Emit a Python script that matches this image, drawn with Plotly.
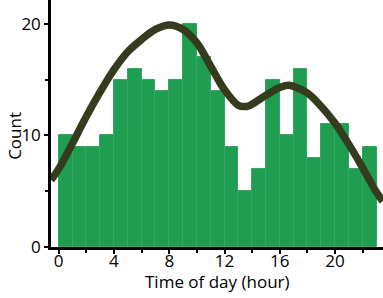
import plotly.graph_objects as go

# Histogram: counts per hour bin (bins start at hour 0..22)
hours = list(range(23))
counts = [10, 9, 9, 10, 15, 16, 15, 14, 15, 20, 17, 14, 9, 5, 7, 15, 10, 16, 8, 11, 11, 7, 9]

# Smoothed density curve
curve_x = [-0.55, 0, 1, 2, 3, 4, 5, 6, 7, 8, 9, 10, 11, 12, 13, 13.6, 14, 15, 16, 16.6, 17, 18, 19, 20, 21, 22, 23, 23.45]
curve_y = [6.0, 7.0, 9.3, 11.7, 13.9, 15.9, 17.5, 18.6, 19.5, 19.9, 19.5, 18.3, 16.2, 14.1, 12.7, 12.6, 12.8, 13.6, 14.3, 14.5, 14.4, 13.8, 12.6, 11.1, 9.2, 7.1, 4.9, 4.1]

x_ticks = [0, 4, 8, 12, 16, 20]
y_ticks = [0, 10, 20]

FONT = "Open Sans"

fig = go.Figure()
fig.add_trace(go.Bar(
    x=[h + 0.5 for h in hours], y=counts, width=1,
    marker=dict(color="#1f9e52", line=dict(color="#34a862", width=1)),
    showlegend=False, hoverinfo="skip",
))
fig.add_trace(go.Scatter(
    x=curve_x, y=curve_y, mode="lines",
    line=dict(color="#353c1e", width=7.5, shape="spline", smoothing=1.0),
    showlegend=False, hoverinfo="skip",
))

fig.update_layout(
    width=383, height=298,
    margin=dict(l=51, r=0, t=0, b=51),
    paper_bgcolor="white", plot_bgcolor="white",
    font=dict(family=FONT, size=17, color="black"),
    bargap=0,
    annotations=[
        dict(text="Time of day (hour)", xref="paper", yref="paper", x=0.5, y=0,
             xanchor="center", yanchor="middle", yshift=-34, showarrow=False,
             font=dict(family=FONT, size=17)),
        dict(text="Count", xref="paper", yref="paper", x=0, y=0.45, textangle=-90,
             xanchor="center", yanchor="middle", xshift=-36, showarrow=False,
             font=dict(family=FONT, size=17)),
    ],
)
fig.update_xaxes(
    range=[-0.557, 23.47], tickvals=x_ticks, ticks="outside", ticklen=4, tickwidth=1.5,
    tickcolor="black", showline=True, linecolor="black", linewidth=2.5,
    showgrid=False, zeroline=False, automargin=False, ticklabelstandoff=-7,
    minor=dict(dtick=2, tick0=0, ticks="outside", ticklen=3, tickcolor="black", tickwidth=1.5),
    tickfont=dict(family=FONT, size=17),
)
fig.update_yaxes(
    range=[0, 22.14], tickvals=y_ticks, ticks="outside", ticklen=4, tickwidth=1.5,
    tickcolor="black", showline=True, linecolor="black", linewidth=2.5,
    showgrid=False, zeroline=False, automargin=False,
    minor=dict(dtick=5, tick0=0, ticks="outside", ticklen=3, tickcolor="black", tickwidth=1.5),
    tickfont=dict(family=FONT, size=17),
)

fig.write_html("out.html", config={"displayModeBar": False},
               post_script="document.body.style.margin='0';")
